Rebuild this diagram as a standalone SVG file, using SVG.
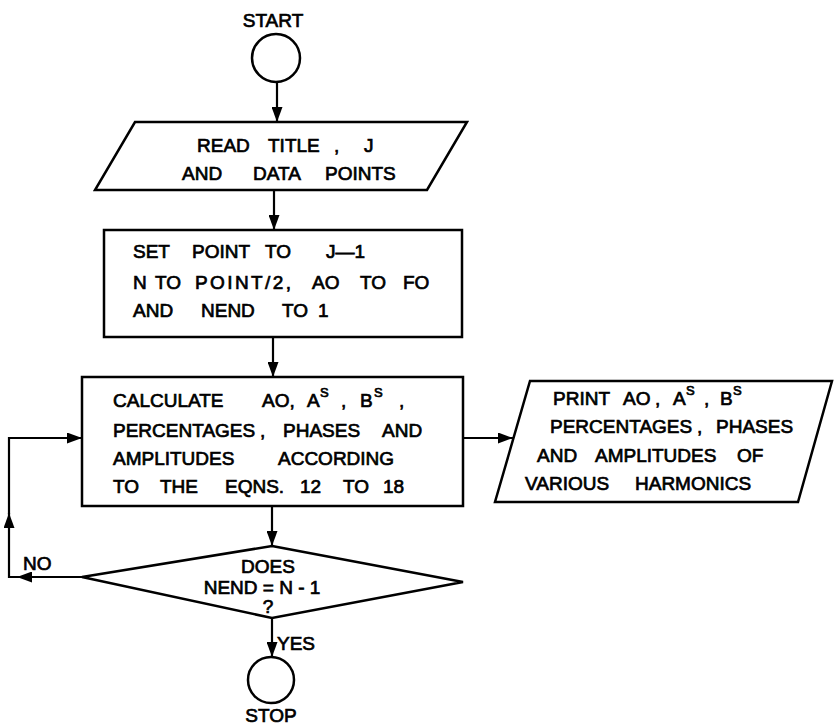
<svg xmlns="http://www.w3.org/2000/svg" width="834" height="726" viewBox="0 0 834 726">
<style>
.shape{fill:none;stroke:#000;stroke-width:2.5;stroke-linejoin:miter}
.conn{fill:none;stroke:#000;stroke-width:2.2}
.t{font-family:"Liberation Sans",Arial,sans-serif;font-size:19px;fill:#000;stroke:#000;stroke-width:0.7}
.sup{font-size:13px}
.c{text-anchor:middle}
</style>
<defs>
<marker id="ah" markerUnits="userSpaceOnUse" markerWidth="15" markerHeight="11" refX="15" refY="5.5" orient="auto">
<path d="M0,0 L15,5.5 L0,11 z" fill="#000"/>
</marker>
</defs>
<rect width="834" height="726" fill="#fff"/>

<g id="start">
<text class="t c" x="273" y="27">START</text>
<circle class="shape" cx="276" cy="58" r="24"/>
</g>

<g id="read">
<polygon class="shape" points="135,122 467,122 427,190 95,190"/>
<text class="t"><tspan x="197" y="152">READ</tspan><tspan x="268" y="152">TITLE</tspan><tspan x="334" y="152">,</tspan><tspan x="364" y="152">J</tspan></text>
<text class="t"><tspan x="182" y="180">AND</tspan><tspan x="253" y="180">DATA</tspan><tspan x="325" y="180">POINTS</tspan></text>
</g>

<g id="set">
<rect class="shape" x="104" y="230" width="358" height="107"/>
<text class="t"><tspan x="133" y="258">SET</tspan><tspan x="192" y="258">POINT</tspan><tspan x="265" y="258">TO</tspan><tspan x="326" y="258">J—1</tspan></text>
<text class="t"><tspan x="133" y="289">N</tspan><tspan x="155" y="289">TO</tspan><tspan x="195" y="289" textLength="96" lengthAdjust="spacing">POINT/2,</tspan><tspan x="312" y="289">AO</tspan><tspan x="360" y="289">TO</tspan><tspan x="403" y="289">FO</tspan></text>
<text class="t"><tspan x="133" y="317">AND</tspan><tspan x="201" y="317">NEND</tspan><tspan x="282" y="317">TO</tspan><tspan x="318" y="317">1</tspan></text>
</g>

<g id="calc">
<rect class="shape" x="82" y="377" width="381" height="129"/>
<text class="t"><tspan x="113" y="407">CALCULATE</tspan><tspan x="262" y="407">AO,</tspan><tspan x="307" y="407">A</tspan><tspan class="sup" x="320" y="397">S</tspan><tspan x="341" y="407">,</tspan><tspan x="360" y="407">B</tspan><tspan class="sup" x="374" y="397">S</tspan><tspan x="399" y="407">,</tspan></text>
<text class="t"><tspan x="113" y="437">PERCENTAGES</tspan><tspan x="260" y="437">,</tspan><tspan x="283" y="437">PHASES</tspan><tspan x="382" y="437">AND</tspan></text>
<text class="t"><tspan x="113" y="465">AMPLITUDES</tspan><tspan x="278" y="465">ACCORDING</tspan></text>
<text class="t"><tspan x="113" y="493">TO</tspan><tspan x="160" y="493">THE</tspan><tspan x="225" y="493">EQNS.</tspan><tspan x="300" y="493">12</tspan><tspan x="343" y="493">TO</tspan><tspan x="383" y="493">18</tspan></text>
</g>

<g id="print">
<polygon class="shape" points="530,381 832,381 798,502 495,502"/>
<text class="t"><tspan x="553" y="405">PRINT</tspan><tspan x="623" y="405">AO</tspan><tspan x="655" y="405">,</tspan><tspan x="673" y="405">A</tspan><tspan class="sup" x="686" y="395">S</tspan><tspan x="704" y="405">,</tspan><tspan x="720" y="405">B</tspan><tspan class="sup" x="733" y="395">S</tspan></text>
<text class="t"><tspan x="550" y="433">PERCENTAGES</tspan><tspan x="697" y="433">,</tspan><tspan x="716" y="433">PHASES</tspan></text>
<text class="t"><tspan x="537" y="462">AND</tspan><tspan x="595" y="462">AMPLITUDES</tspan><tspan x="737" y="462">OF</tspan></text>
<text class="t"><tspan x="525" y="490">VARIOUS</tspan><tspan x="635" y="490">HARMONICS</tspan></text>
</g>

<g id="decision">
<polygon class="shape" points="272,546 463,582 272,618 82,577"/>
<text class="t c" x="268" y="573">DOES</text>
<text class="t c" x="262" y="594">NEND = N - 1</text>
<text class="t c" x="268" y="613">?</text>
</g>

<g id="stop">
<circle class="shape" cx="271" cy="680" r="23"/>
<text class="t c" x="271" y="722">STOP</text>
</g>

<g id="connectors">
<path class="conn" d="M277,82 V122" marker-end="url(#ah)"/>
<path class="conn" d="M274,190 V230" marker-end="url(#ah)"/>
<path class="conn" d="M273,337 V377" marker-end="url(#ah)"/>
<path class="conn" d="M272,506 V546" marker-end="url(#ah)"/>
<path class="conn" d="M463,438 H513" marker-end="url(#ah)"/>
<path class="conn" d="M272,618 V657" marker-end="url(#ah)"/>
<path class="conn" d="M82,577 H17" marker-end="url(#ah)"/>
<path class="conn" d="M18,577 H9 V513" marker-end="url(#ah)"/>
<path class="conn" d="M9,514 V438 H82" marker-end="url(#ah)"/>
<text class="t" x="23" y="570">NO</text>
<text class="t" x="277" y="650">YES</text>
</g>
</svg>
